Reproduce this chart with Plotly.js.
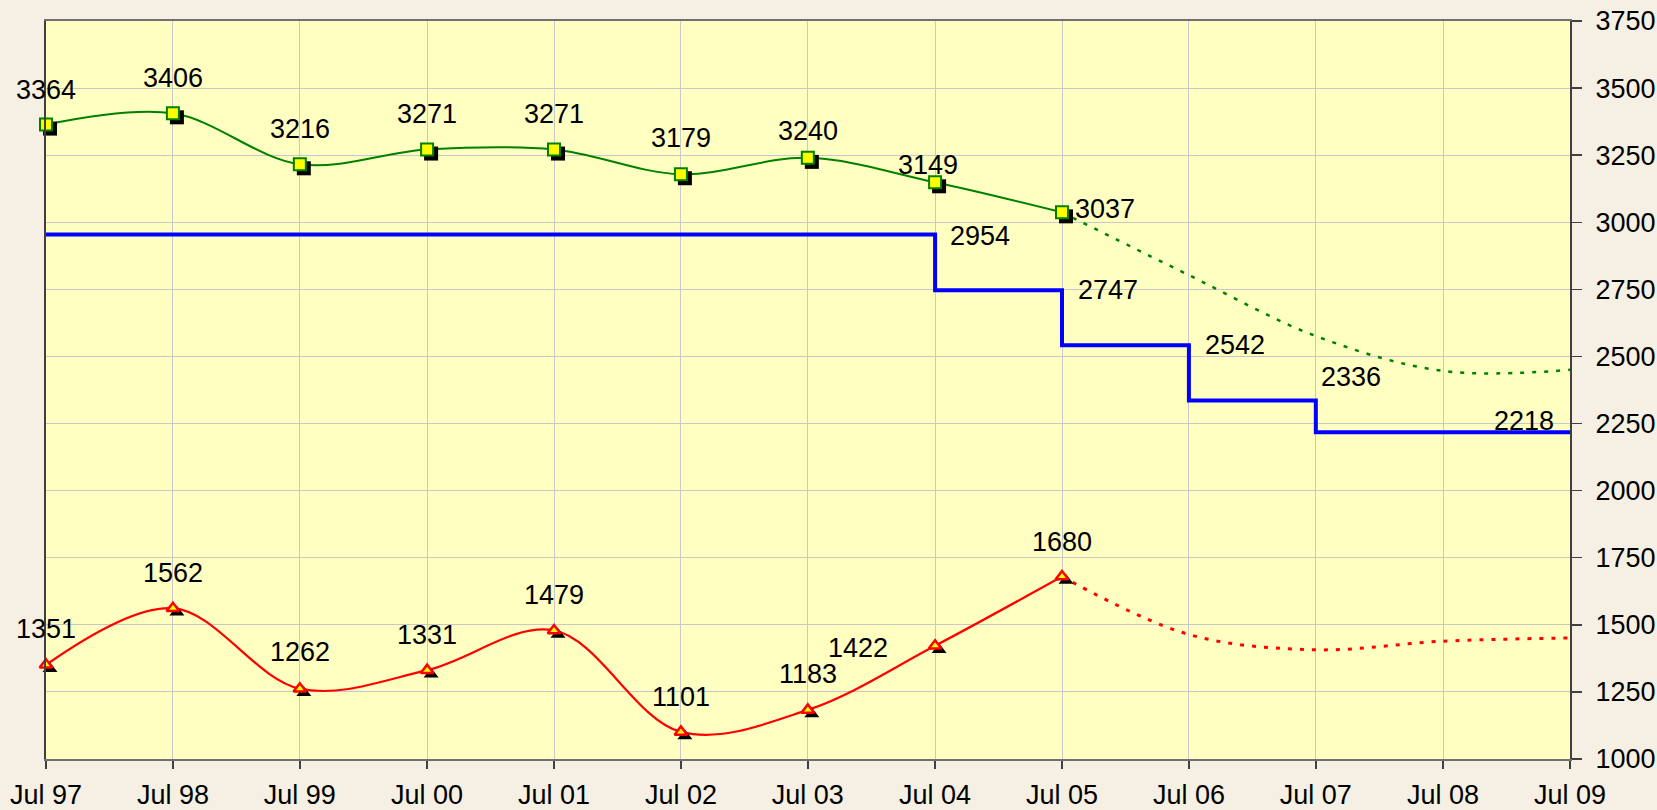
<!DOCTYPE html>
<html>
<head>
<meta charset="utf-8">
<script src="https://cdn.plot.ly/plotly-3.0.1.min.js"></script>
<style>
html,body{margin:0;padding:0;background:#f5f0e3;}
#chart{width:1657px;height:810px;}
</style>
</head>
<body>
<div id="chart"></div>
<script>
// ---- data ----
const years = ['1997-07-01','1998-07-01','1999-07-01','2000-07-01','2001-07-01','2002-07-01','2003-07-01','2004-07-01','2005-07-01'];
const greenValues = [3364, 3406, 3216, 3271, 3271, 3179, 3240, 3149, 3037];
const redValues = [1351, 1562, 1262, 1331, 1479, 1101, 1183, 1422, 1680];

const projYears = ['2005-07-01','2006-07-01','2007-07-01','2008-07-01','2009-07-01'];
const greenProj = [3037, 2803, 2576, 2446, 2450];
const redProj = [1680, 1464, 1407, 1439, 1451];

const stepYears = ['1997-07-01','2004-07-01','2005-07-01','2006-07-01','2007-07-01','2009-07-01'];
const stepValues = [2954, 2747, 2542, 2336, 2218, 2218];

const stepLabelYears = ['2004-07-01','2005-07-01','2006-07-01','2007-07-01','2009-07-01'];
const stepLabelValues = [2954, 2747, 2542, 2336, 2218];

// ---- label offsets (px, styling) ----
const greenShift = [[0,35],[0,35],[0,35],[0,36],[0,36],[0,36],[0,27],[-7,17],[43,3]];
const redShift = [[0,36],[0,35],[0,37],[0,35],[0,35],[0,35],[0,36],[-77,-2],[0,35]];
const stepShift = [[45,-1],[46,0],[46,0],[35,23],[-46,11]];

// ---- layout geometry ----
const ml = 46, mr = 87, mt = 21, mb = 51;
const W = 1657 - ml - mr, H = 810 - mt - mb;
const x0 = Date.parse('1997-07-01'), x1 = Date.parse('2009-07-01');
const yMin = 1000, yMax = 3750;
const shadowPx = 4;
const dx = (x1 - x0) / W * shadowPx;
const dy = (yMax - yMin) / H * shadowPx;

const FONT = 'Liberation Sans, Arial, sans-serif';
const FS = 27;
const traces = [];

// lines
traces.push({x: stepYears, y: stepValues, mode: 'lines', line: {color: '#0000ff', width: 4, shape: 'hv'}, hoverinfo: 'skip'});
traces.push({x: years, y: greenValues, mode: 'lines', line: {color: '#008000', width: 2, shape: 'spline', smoothing: 1}, hoverinfo: 'skip'});
traces.push({x: projYears, y: greenProj, mode: 'lines', line: {color: '#008000', width: 2.5, shape: 'spline', smoothing: 1, dash: '4px,8px'}, hoverinfo: 'skip'});
traces.push({x: years, y: redValues, mode: 'lines', line: {color: '#ff0000', width: 2.2, shape: 'spline', smoothing: 1}, hoverinfo: 'skip'});
traces.push({x: projYears, y: redProj, mode: 'lines', line: {color: '#ff0000', width: 3, shape: 'spline', smoothing: 1, dash: '4px,8px'}, hoverinfo: 'skip'});

// shadows (shifted overlay axes)
traces.push({x: years, y: greenValues, xaxis: 'x2', yaxis: 'y2', mode: 'markers', cliponaxis: false,
  marker: {symbol: 'square', size: 14, color: '#000000', line: {width: 0}}, hoverinfo: 'skip'});
traces.push({x: years, y: redValues, xaxis: 'x2', yaxis: 'y2', mode: 'markers', cliponaxis: false,
  marker: {symbol: 'triangle-up', size: 13, color: '#000000', line: {width: 0}}, hoverinfo: 'skip'});

// markers (top overlay axes, same range as main)
traces.push({x: years, y: greenValues, xaxis: 'x3', yaxis: 'y3', mode: 'markers', cliponaxis: false,
  marker: {symbol: 'square', size: 12, color: '#ffff00', line: {color: '#008000', width: 2}}, hoverinfo: 'skip'});
traces.push({x: years, y: redValues, xaxis: 'x3', yaxis: 'y3', mode: 'markers', cliponaxis: false,
  marker: {symbol: 'triangle-up', size: 11, color: '#ffff00', line: {color: '#ff0000', width: 2.5}}, hoverinfo: 'skip'});

const annotations = [];
function addLabels(xs, ys, shifts) {
  xs.forEach((xv, i) => {
    annotations.push({x: xv, y: ys[i], xref: 'x', yref: 'y', text: String(ys[i]), showarrow: false,
      xanchor: 'center', yanchor: 'middle', xshift: shifts[i][0], yshift: shifts[i][1],
      font: {family: FONT, size: FS, color: '#000000'}});
  });
}
addLabels(years, greenValues, greenShift);
addLabels(years, redValues, redShift);
addLabels(stepLabelYears, stepLabelValues, stepShift);

const layout = {
  width: 1657, height: 810,
  margin: {l: ml, r: mr, t: mt, b: mb, pad: 0},
  paper_bgcolor: '#f5f0e3',
  plot_bgcolor: '#ffffc2',
  showlegend: false,
  font: {family: FONT, size: FS, color: '#000000'},
  xaxis: {
    type: 'date', range: [x0, x1], tick0: '1997-07-01', dtick: 'M12', tickformat: '%b %y',
    showgrid: true, gridcolor: '#c8c8c8', gridwidth: 1,
    showline: true, linecolor: '#707070', linewidth: 2, mirror: true,
    ticks: 'outside', ticklen: 8, tickcolor: '#404040', tickwidth: 1.5,
    ticklabelstandoff: 3,
    tickfont: {family: FONT, size: FS, color: '#000000'}, zeroline: false, fixedrange: true
  },
  yaxis: {
    side: 'right', range: [yMin, yMax], tick0: 1000, dtick: 250,
    showgrid: true, gridcolor: '#c8c8c8', gridwidth: 1,
    showline: true, linecolor: '#404040', linewidth: 2, mirror: true,
    ticks: 'outside', ticklen: 10, tickcolor: '#404040', tickwidth: 1.5,
    ticklabelstandoff: 8,
    tickfont: {family: FONT, size: FS, color: '#000000'}, zeroline: false, fixedrange: true
  },
  xaxis2: {type: 'date', overlaying: 'x', range: [x0 - dx, x1 - dx], visible: false, fixedrange: true},
  yaxis2: {overlaying: 'y', range: [yMin + dy, yMax + dy], visible: false, fixedrange: true},
  xaxis3: {type: 'date', overlaying: 'x', range: [x0, x1], visible: false, fixedrange: true},
  yaxis3: {overlaying: 'y', range: [yMin, yMax], visible: false, fixedrange: true},
  annotations: annotations
};

Plotly.newPlot('chart', traces, layout, {displayModeBar: false, staticPlot: true});
</script>
</body>
</html>
